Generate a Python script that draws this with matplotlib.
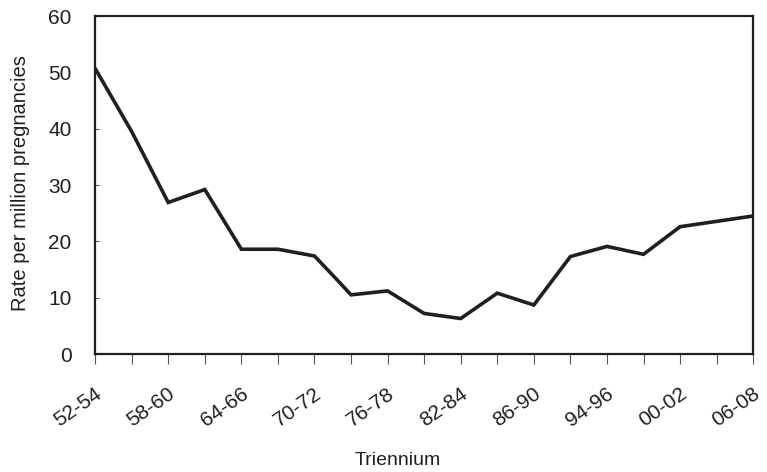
import numpy as np
import matplotlib
matplotlib.use("Agg")
import matplotlib.pyplot as plt
from matplotlib.transforms import ScaledTranslation

plt.rcParams['font.family'] = ['Liberation Sans', 'DejaVu Sans']

# triennium index (0 = 52-54, 18 = 06-08) and rate per million pregnancies
positions = [0, 1, 2, 3, 4, 5, 6, 6.6, 7, 8, 9, 10, 11, 12, 13, 14, 15, 16, 18]
rates = [50.7, 39.5, 26.9, 29.2, 18.6, 18.6, 17.4, 13.3, 10.5, 11.2,
         7.2, 6.3, 10.8, 8.7, 17.3, 19.1, 17.7, 22.6, 24.5]
tick_labels = ['52-54', '58-60', '64-66', '70-72', '76-78',
               '82-84', '86-90', '94-96', '00-02', '06-08']
n_triennia = 19

ink = '#231f20'

fig = plt.figure(figsize=(7.67, 4.72), dpi=100)
ax = fig.add_axes([0.124, 0.25, 0.858, 0.716])

ax.plot(positions, rates, color=ink, lw=2.6, solid_joinstyle='miter')

ax.set_xlim(0, n_triennia - 1)
ax.set_ylim(0, 60)
ax.set_yticks(np.arange(0, 61, 10))
ax.set_xticks(np.arange(n_triennia))
ax.set_xticklabels([tick_labels[i // 2] if i % 2 == 0 else '' for i in range(n_triennia)],
                   rotation=35, ha='right', va='center', rotation_mode='anchor',
                   fontsize=15, color=ink)
ax.tick_params(axis='x', direction='out', length=7, width=0.8, color='#555555', pad=20)
ax.tick_params(axis='y', direction='in', length=3, width=0.8, color='#555555',
               pad=17, labelsize=15, labelcolor=ink)

# nudge the label ends a little to the right of their ticks
shift = ScaledTranslation(5 / 100, 0, fig.dpi_scale_trans)
for lab in ax.get_xticklabels():
    lab.set_transform(lab.get_transform() + shift)

for s in ax.spines.values():
    s.set_color(ink)
    s.set_linewidth(1.6)

fig.text(0.027, 0.612, 'Rate per million pregnancies', rotation=90,
         ha='center', va='center', fontsize=14.5, color=ink)
fig.text(0.519, 0.025, 'Triennium', ha='center', va='center', fontsize=14, color=ink)

fig.savefig('out.png', dpi=100)
